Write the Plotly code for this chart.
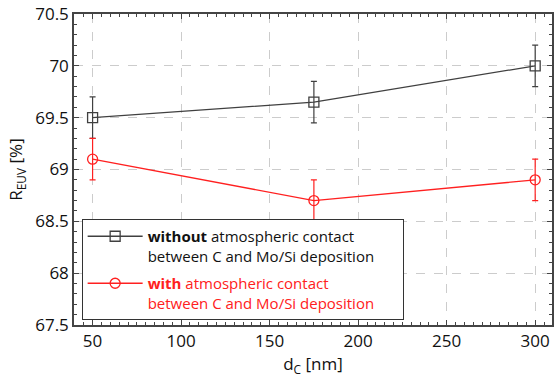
import plotly.graph_objects as go

d_c = [50, 175, 300]
r_without = [69.5, 69.65, 70.0]
err_without = [0.2, 0.2, 0.2]
r_with = [69.1, 68.7, 68.9]
err_with = [0.2, 0.2, 0.2]

black = "#404040"
red = "#ff2020"
pad = "\u00a0" * 6

name_without = "<b>without</b> atmospheric contact<br>between C and Mo/Si deposition" + pad
name_with = ("<span style='color:%s'><b>with</b> atmospheric contact</span><br>"
             "<span style='color:%s'>between C and Mo/Si deposition</span>" % (red, red)) + pad

fig = go.Figure()
fig.add_trace(go.Scatter(
    x=d_c, y=r_without, mode="lines+markers", name=name_without, legendgroup="a",
    line=dict(color=black, width=1.3),
    marker=dict(symbol="square-open", size=10, color=black, line=dict(width=1.3)),
    error_y=dict(type="data", array=err_without, color=black, thickness=1.2, width=3),
))
fig.add_trace(go.Scatter(
    x=d_c, y=r_with, mode="lines+markers", name=name_with, legendgroup="b",
    line=dict(color=red, width=1.3),
    marker=dict(symbol="circle-open", size=10, color=red, line=dict(width=1.3)),
    error_y=dict(type="data", array=err_with, color=red, thickness=1.2, width=3),
))

axis_common = dict(
    showline=True, linecolor="#444", linewidth=1.5, mirror="ticks",
    ticks="inside", ticklen=5, tickcolor="#444", tickwidth=1,
    showgrid=True, gridcolor="#cccccc", griddash="dash", gridwidth=1,
    zeroline=False,
    tickfont=dict(family="Open Sans", size=17, color="#111"),
)

fig.update_xaxes(
    range=[39.5, 309.5], tick0=50, dtick=50,
    minor=dict(dtick=5, ticks="inside", ticklen=3, tickcolor="#444", showgrid=False),
    title=dict(text="d<sub>C</sub> [nm]", font=dict(family="Open Sans", size=17, color="#111"), standoff=6),
    **axis_common,
)
fig.update_yaxes(
    range=[67.5, 70.5], tick0=67.5, dtick=0.5,
    minor=dict(dtick=0.1, ticks="inside", ticklen=3, tickcolor="#444", showgrid=False),
    title=dict(text="R<sub>EUV</sub> [%]", font=dict(family="Open Sans", size=17, color="#111"), standoff=8),
    **axis_common,
)

fig.update_layout(
    width=556, height=379,
    margin=dict(l=74, r=2, t=13, b=54),
    paper_bgcolor="white", plot_bgcolor="white",
    font=dict(family="Open Sans", size=15, color="#111"),
    showlegend=True,
    legend=dict(
        x=0.016, y=0.016, xanchor="left", yanchor="bottom",
        bgcolor="white", bordercolor="#333", borderwidth=1,
        font=dict(family="Open Sans", size=15, color="#111"),
        traceorder="grouped", tracegroupgap=5, itemwidth=55, valign="top",
    ),
)

fig.write_html("out.html")
